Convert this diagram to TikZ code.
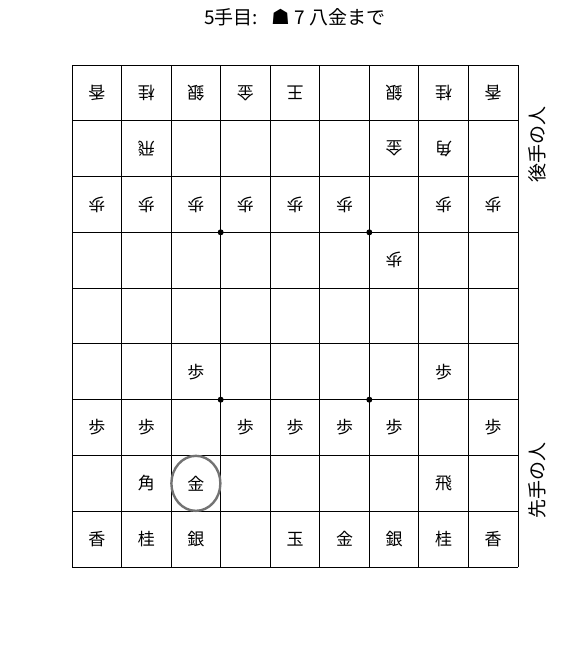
\documentclass[tikz,border=0pt]{standalone}
\usepackage{fontspec}
\setmainfont{Noto Sans CJK JP}
\newfontfamily\symfont{DejaVu Sans}
\begin{document}
\begin{tikzpicture}[x=1pt,y=-1pt,
  piece/.style={font=\fontsize{17}{17}\selectfont, inner sep=0pt},
  gote/.style={piece, rotate=180},
  sente/.style={piece},
  star/.style={circle, fill=black, inner sep=0pt, minimum size=6pt},
  side/.style={font=\fontsize{19}{19}\selectfont, rotate=90}
]
\useasboundingbox (0,0) rectangle (576,648);
\def\cw{49.556}
\def\ch{55.778}
% grid
\foreach \i in {0,...,9}{
  \draw[line width=0.9pt] ({72+\i*\cw},65) -- ({72+\i*\cw},567);
  \draw[line width=0.9pt] (72,{65+\i*\ch}) -- (518,{65+\i*\ch});
}
% star points
\node[star] (s1) at ({72+3*\cw},{65+3*\ch}) {};
\node[star] (s2) at ({72+6*\cw},{65+3*\ch}) {};
\node[star] (s3) at ({72+3*\cw},{65+6*\ch}) {};
\node[star] (s4) at ({72+6*\cw},{65+6*\ch}) {};
% title
\node[font=\fontsize{19}{19}\selectfont, inner sep=0pt] (title) at (295,17) {5手目:\hspace{13pt}{\symfont\fontsize{21}{21}\selectfont ☗}\hspace{4pt}7\hspace{5pt}八金まで};
% side labels
\node[side] (gotelabel) at (537,144) {後手の人};
\node[side] (sentelabel) at (537,480) {先手の人};
% pieces
\newcommand\gpc[3]{\node[gote] (g#1#2) at ({72+(#1-0.5)*\cw},{65+(#2-0.5)*\ch}) {#3};}
\newcommand\spc[3]{\node[sente] (p#1#2) at ({72+(#1-0.5)*\cw},{65+(#2-0.5)*\ch}) {#3};}
\gpc11{香}\gpc21{桂}\gpc31{銀}\gpc41{金}\gpc51{王}\gpc71{銀}\gpc81{桂}\gpc91{香}
\gpc22{飛}\gpc72{金}\gpc82{角}
\gpc13{歩}\gpc23{歩}\gpc33{歩}\gpc43{歩}\gpc53{歩}\gpc63{歩}\gpc83{歩}\gpc93{歩}
\gpc74{歩}
\spc36{歩}\spc86{歩}
\spc17{歩}\spc27{歩}\spc47{歩}\spc57{歩}\spc67{歩}\spc77{歩}\spc97{歩}
\spc28{角}\spc38{金}\spc88{飛}
\spc19{香}\spc29{桂}\spc39{銀}\spc59{玉}\spc69{金}\spc79{銀}\spc89{桂}\spc99{香}
% circle mark
\draw[draw=black!55, line width=2.4pt] (p38) ellipse [x radius=24.5, y radius=27.5];
\end{tikzpicture}
\end{document}
